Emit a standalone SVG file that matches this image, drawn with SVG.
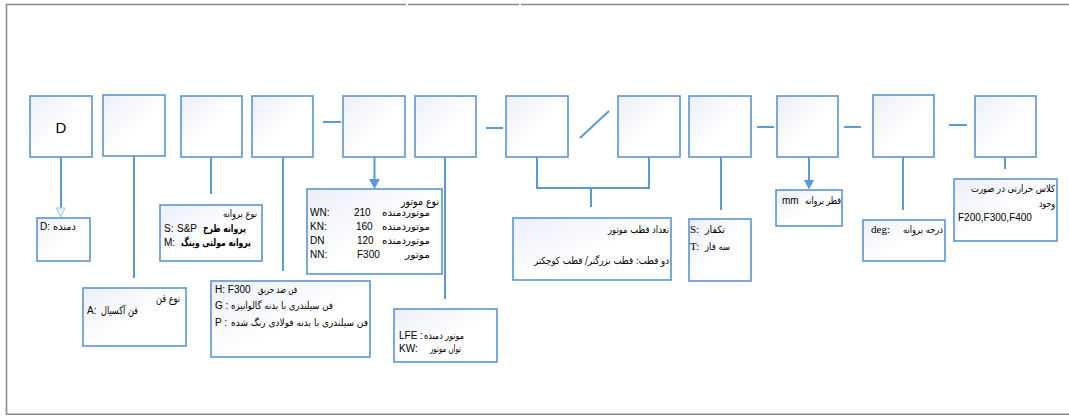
<svg xmlns="http://www.w3.org/2000/svg" width="1069" height="417" viewBox="0 0 1069 417">
<style>
.frame{fill:none;stroke:#8a8a8a;stroke-width:1.6}
.box{fill:url(#g);stroke:#5b95d0;stroke-width:1.6}
.ln{fill:none;stroke:#5b9bd5;stroke-width:2}
.lat{font-family:"Liberation Sans","DejaVu Sans",sans-serif;font-size:10px;fill:#000}
.ser{font-family:"Liberation Serif","DejaVu Serif",serif;font-size:11px;fill:#000}
.fa{font-family:"DejaVu Sans",sans-serif;font-size:10px;fill:#000;text-anchor:end}
.fah{font-family:"DejaVu Sans",sans-serif;font-size:10.5px;fill:#000;text-anchor:end}
.fab{font-family:"DejaVu Sans",sans-serif;font-size:10.5px;font-weight:bold;fill:#000;text-anchor:end}
</style>
<defs>
<linearGradient id="g" x1="0" y1="0" x2="1" y2="1">
<stop offset="0" stop-color="#eceff9"/>
<stop offset="0.55" stop-color="#ffffff"/>
<stop offset="1" stop-color="#ffffff"/>
</linearGradient>
</defs>
<rect width="1069" height="417" fill="#fff"/>
<g id="frame">
<path class="frame" d="M6,4.5 H406 M408,4.5 H519 M521,4.5 H1069"/>
<path class="frame" d="M6.5,4 V414.3 H1069"/>
</g>
<g id="separators">
<path class="ln" d="M323,122 H341 M486,128 H503 M580,138 L609,111 M757,127 H774 M844,127 H861 M949,125 H967"/>
</g>
<g id="connectors">
<path class="ln" d="M61,157 V208"/>
<polygon points="56.3,208 65,208 60.7,217" fill="#f4f8fd" stroke="#9dc3e6" stroke-width="1"/>
<path class="ln" d="M134,156 V278"/>
<path class="ln" d="M211,157 V194"/>
<path class="ln" d="M283,157 V271"/>
<path class="ln" d="M374.5,157 V181"/>
<polygon points="369,179 380,179 374.5,189" fill="#5b9bd5"/>
<path class="ln" d="M445,157 V299"/>
<path class="ln" d="M537,157 V188 H649 V157 M591,188 V207"/>
<path class="ln" d="M721,157 V210"/>
<path class="ln" d="M809,157 V181"/>
<polygon points="804,180 814,180 809,189.5" fill="#5b9bd5"/>
<path class="ln" d="M903,157 V210"/>
<path class="ln" d="M1005,157 V169"/>
</g>
<g id="b1"><rect class="box" x="30" y="96" width="62" height="61"/><text class="lat" x="61" y="133" text-anchor="middle" style="font-size:15px">D</text></g>
<g id="b2"><rect class="box" x="103" y="95" width="62" height="61"/></g>
<g id="b3"><rect class="box" x="181" y="96" width="61" height="61"/></g>
<g id="b4"><rect class="box" x="252" y="96" width="61" height="61"/></g>
<g id="b5"><rect class="box" x="343" y="96" width="62" height="61"/></g>
<g id="b6"><rect class="box" x="415" y="96" width="61" height="61"/></g>
<g id="b7"><rect class="box" x="506" y="96" width="62" height="61"/></g>
<g id="b8"><rect class="box" x="618" y="96" width="62" height="61"/></g>
<g id="b9"><rect class="box" x="689" y="96" width="62" height="61"/></g>
<g id="b10"><rect class="box" x="777" y="96" width="61" height="61"/></g>
<g id="b11"><rect class="box" x="873" y="95" width="61" height="62"/></g>
<g id="b12"><rect class="box" x="975" y="96" width="61" height="61"/></g>

<g id="d-box"><rect class="box" x="37" y="218" width="53" height="43"/>
<text class="lat" x="40" y="230">D:</text><text class="fa" x="76" y="230" textLength="23" lengthAdjust="spacingAndGlyphs">دمنده</text></g>

<g id="a-box"><rect class="box" x="83" y="288" width="103" height="58"/>
<text class="fah" x="180" y="302" textLength="24" lengthAdjust="spacingAndGlyphs">نوع فن</text>
<text class="lat" x="87" y="314">A:</text><text class="fah" x="138" y="314" textLength="37" lengthAdjust="spacingAndGlyphs">فن آکسیال</text></g>

<g id="s-box"><rect class="box" x="160" y="205" width="102" height="56"/>
<text class="fa" x="257" y="217" textLength="34" lengthAdjust="spacingAndGlyphs">نوع پروانه</text>
<text class="lat" x="164" y="232">S:</text><text class="lat" x="177" y="232">S&amp;P</text><text class="fab" x="246" y="232" textLength="43" lengthAdjust="spacingAndGlyphs">پروانه طرح</text>
<text class="lat" x="164" y="246">M:</text><text class="fab" x="251" y="246" textLength="70" lengthAdjust="spacingAndGlyphs">پروانه مولتی وینگ</text></g>

<g id="h-box"><rect class="box" x="211" y="281" width="159" height="76"/>
<text class="lat" x="215" y="293">H: F300</text><text class="fa" x="297" y="293" textLength="39" lengthAdjust="spacingAndGlyphs">فن ضد حریق</text>
<text class="lat" x="215" y="309">G :</text><text class="fa" x="333" y="309" textLength="102" lengthAdjust="spacingAndGlyphs">فن سیلندری با بدنه گالوانیزه</text>
<text class="lat" x="215" y="326">P :</text><text class="fa" x="368" y="326" textLength="137" lengthAdjust="spacingAndGlyphs">فن سیلندری با بدنه فولادی رنگ شده</text></g>

<g id="wn-box"><rect class="box" x="307" y="189" width="135" height="85"/>
<text class="fah" x="439" y="205" textLength="38" lengthAdjust="spacingAndGlyphs">نوع موتور</text>
<text class="lat" x="310" y="216">WN:</text><text class="lat" x="354" y="216">210</text><text class="fa" x="430" y="216" textLength="48" lengthAdjust="spacingAndGlyphs">موتوردمنده</text>
<text class="lat" x="310" y="230">KN:</text><text class="lat" x="356" y="230">160</text><text class="fa" x="430" y="230" textLength="48" lengthAdjust="spacingAndGlyphs">موتوردمنده</text>
<text class="lat" x="310" y="243.5">DN</text><text class="lat" x="357" y="243.5">120</text><text class="fa" x="430" y="243.5" textLength="48" lengthAdjust="spacingAndGlyphs">موتوردمنده</text>
<text class="lat" x="310" y="257.5">NN:</text><text class="lat" x="357" y="257.5">F300</text><text class="fa" x="430" y="257.5" textLength="25" lengthAdjust="spacingAndGlyphs">موتور</text></g>

<g id="lfe-box"><rect class="box" x="394" y="309" width="103" height="53"/>
<text class="lat" x="399" y="339">LFE :</text><text class="fa" x="464" y="339" textLength="40" lengthAdjust="spacingAndGlyphs">موتور دمنده</text>
<text class="lat" x="399" y="352">KW:</text><text class="fa" x="461" y="352" textLength="31" lengthAdjust="spacingAndGlyphs">توان موتور</text></g>

<g id="pole-box"><rect class="box" x="513" y="218" width="158" height="62"/>
<text class="fa" x="669" y="233" textLength="61" lengthAdjust="spacingAndGlyphs">تعداد قطب موتور</text>
<text class="fa" x="669" y="264" textLength="135" lengthAdjust="spacingAndGlyphs">دو قطب: قطب بزرگتر/ قطب کوچکتر</text></g>

<g id="st-box"><rect class="box" x="689" y="219" width="62" height="62"/>
<text class="ser" x="690" y="233">S:</text><text class="fa" x="725" y="233" textLength="20" lengthAdjust="spacingAndGlyphs">تکفاز</text>
<text class="ser" x="690" y="250">T:</text><text class="fa" x="730" y="250" textLength="25" lengthAdjust="spacingAndGlyphs">سه فاز</text></g>

<g id="mm-box"><rect class="box" x="776" y="190" width="66" height="36"/>
<text class="lat" x="782" y="204">mm</text><text class="fa" x="841" y="204" textLength="36" lengthAdjust="spacingAndGlyphs">قطر پروانه</text></g>

<g id="deg-box"><rect class="box" x="863" y="220" width="82" height="41"/>
<text class="ser" x="871" y="233">deg:</text><text class="fa" x="943" y="233" textLength="40" lengthAdjust="spacingAndGlyphs">درجه پروانه</text></g>

<g id="f-box"><rect class="box" x="954" y="179" width="103" height="62"/>
<text class="fa" x="1055" y="192" textLength="84" lengthAdjust="spacingAndGlyphs">کلاس حرارتی در صورت</text>
<text class="fa" x="1055" y="207" textLength="16" lengthAdjust="spacingAndGlyphs">وجود</text>
<text class="lat" x="958" y="221">F200,F300,F400</text></g>
</svg>
